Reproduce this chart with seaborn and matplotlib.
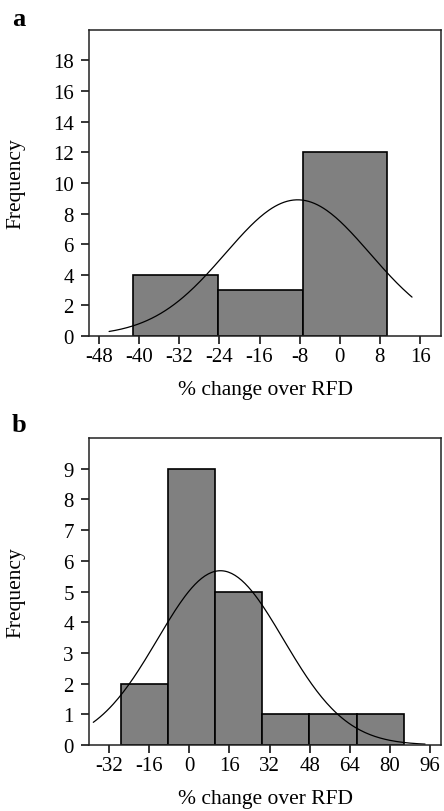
import numpy as np
import pandas as pd
import matplotlib
matplotlib.use("Agg")
import matplotlib.pyplot as plt
import seaborn as sns

# panel a: histogram of % change over RFD
a_edges = [-41.2, -24.3, -7.4, 9.5]
a_counts = [4, 3, 12]
a_mean, a_sd = -8.4, 14.4          # fitted normal
a_curve_range = (-46.0, 14.4)
a_xticks = [-48, -40, -32, -24, -16, -8, 0, 8, 16]
a_yticks = [0, 2, 4, 6, 8, 10, 12, 14, 16, 18]

# panel b
b_edges = [-27.3, -8.5, 10.3, 29.1, 47.9, 66.7, 85.5]
b_counts = [2, 9, 5, 1, 1, 1]
b_mean, b_sd = 12.4, 25.1
b_curve_range = (-38.3, 94.0)
b_xticks = [-32, -16, 0, 16, 32, 48, 64, 80, 96]
b_yticks = [0, 1, 2, 3, 4, 5, 6, 7, 8, 9]

sns.set_theme(style="ticks")
plt.rcParams['font.family'] = ['Liberation Serif', 'DejaVu Serif']
plt.rcParams['axes.unicode_minus'] = False
plt.rcParams['text.color'] = 'black'
plt.rcParams['axes.labelcolor'] = 'black'
plt.rcParams['xtick.color'] = 'black'
plt.rcParams['ytick.color'] = 'black'


def normal_curve(mean, sd, n, width, lo, hi):
    xs = np.linspace(lo, hi, 200)
    ys = n * width / (sd * np.sqrt(2 * np.pi)) * np.exp(-0.5 * ((xs - mean) / sd) ** 2)
    return xs, ys


def draw_panel(ax, edges, counts, mean, sd, crange, xticks, yticks, xlim, ylim):
    e = np.array(edges)
    df = pd.DataFrame({'x': (e[:-1] + e[1:]) / 2, 'w': counts})
    sns.histplot(data=df, x='x', weights='w', bins=list(edges), ax=ax, color='#808080',
                 edgecolor='black', linewidth=1.2, alpha=1)
    width = e[1] - e[0]
    xs, ys = normal_curve(mean, sd, sum(counts), width, *crange)
    sns.lineplot(x=xs, y=ys, ax=ax, color='black', linewidth=0.9)

    ax.set_xlim(*xlim)
    ax.set_ylim(*ylim)
    ax.set_xticks(xticks)
    ax.set_yticks(yticks)
    ax.tick_params(axis='both', direction='out', length=6, width=1.1, color='black',
                   labelcolor='black', labelsize=15)
    ax.tick_params(axis='x', pad=2)
    ax.tick_params(axis='y', pad=5)
    for s in ax.spines.values():
        s.set_visible(True)
        s.set_color('#222222')
        s.set_linewidth(1.1)
    ax.set_xlabel('% change over RFD', fontsize=15.5, labelpad=10)
    ax.set_ylabel('Frequency', fontsize=15.5)
    ax.yaxis.set_label_coords(-0.182, 0.5)


fig = plt.figure(figsize=(4.44, 8.12), dpi=100)
ax_a = fig.add_axes([0.2005, 0.585, 0.793, 0.377])
ax_b = fig.add_axes([0.2005, 0.0813, 0.793, 0.378])

draw_panel(ax_a, a_edges, a_counts, a_mean, a_sd, a_curve_range, a_xticks, a_yticks,
           (-50, 20.2), (0, 20))
draw_panel(ax_b, b_edges, b_counts, b_mean, b_sd, b_curve_range, b_xticks, b_yticks,
           (-40, 100.4), (0, 10))

fig.text(12 / 444, 1 - 8 / 812, 'a', fontsize=19, fontweight='bold', va='top', ha='left')
fig.text(12 / 444, 1 - 414 / 812, 'b', fontsize=19, fontweight='bold', va='top', ha='left')

fig.savefig('out.png', dpi=100, facecolor='white')
